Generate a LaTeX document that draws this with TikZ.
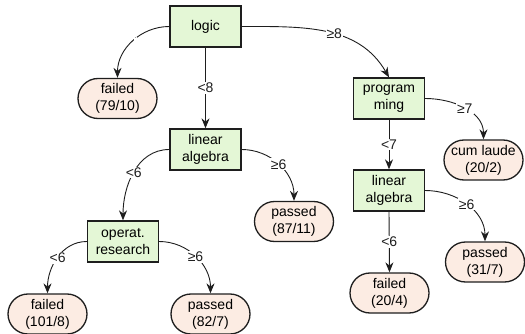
\documentclass[tikz,border=0pt]{standalone}
\usepackage{fontspec}
\setmainfont{Liberation Sans}
\usetikzlibrary{arrows.meta}
\definecolor{boxfill}{HTML}{E4F7D6}
\definecolor{pillfill}{HTML}{FCECE3}
\definecolor{ink}{HTML}{1E1E1E}
\begin{document}
\begin{tikzpicture}[x=1pt,y=1pt,
  font=\fontsize{14}{17}\selectfont,
  testbox/.style={draw=ink,line width=1.3pt,fill=boxfill,minimum width=71pt,minimum height=41pt,align=center,inner sep=2pt},
  leaf/.style={draw=ink,line width=1.3pt,fill=pillfill,rounded corners=20pt,minimum width=79pt,minimum height=40pt,align=center,inner sep=2pt},
  edge/.style={draw=ink,line width=0.9pt,-{Stealth[length=10pt,width=8pt]}},
  lbl/.style={fill=white,inner sep=1pt,text=ink}]
\useasboundingbox (0,0) rectangle (525,-334);
\node[testbox] (logic) at (205.5,-26.5) {logic};
\node[leaf] (f1) at (117.5,-98.5) {failed\\(79/10)};
\node[testbox] (la1) at (205.5,-149.5) {linear\\algebra};
\node[leaf] (p1) at (294,-221.5) {passed\\(87/11)};
\node[testbox] (ores) at (123,-241.5) {operat.\\research};
\node[leaf] (f2) at (47.5,-314) {failed\\(101/8)};
\node[leaf] (p2) at (210.5,-314) {passed\\(82/7)};
\node[testbox] (prog) at (389,-98.5) {program\\ming};
\node[leaf] (cum) at (483.5,-160) {cum laude\\(20/2)};
\node[testbox] (la2) at (389,-190.5) {linear\\algebra};
\node[leaf] (p3) at (485,-262) {passed\\(31/7)};
\node[leaf] (f3) at (389.5,-293) {failed\\(20/4)};

\draw[edge] (logic.west) to[out=180,in=90] node[lbl,pos=0.45,font=\tiny]{-} (f1.north);
\draw[edge] (logic.south) -- node[lbl]{<8} (la1.north);
\draw[edge] (logic.east) to[out=0,in=120] node[lbl,pos=0.55]{≥8} (prog.north);
\draw[edge] (prog.east) to[out=0,in=90] node[lbl,pos=0.5]{≥7} (cum.north);
\draw[edge] (prog.south) -- node[lbl]{<7} (la2.north);
\draw[edge] (la2.east) to[out=0,in=90] node[lbl,pos=0.5]{≥6} (p3.north);
\draw[edge] (la2.south) -- node[lbl]{<6} (f3.north);
\draw[edge] (la1.east) to[out=0,in=90] node[lbl,pos=0.5]{≥6} (p1.north);
\draw[edge] (la1.west) to[out=180,in=90] node[lbl,pos=0.5]{<6} (ores.north);
\draw[edge] (ores.west) to[out=180,in=90] node[lbl,pos=0.5]{<6} (f2.north);
\draw[edge] (ores.east) to[out=0,in=90] node[lbl,pos=0.5]{≥6} (p2.north);
\end{tikzpicture}
\end{document}
